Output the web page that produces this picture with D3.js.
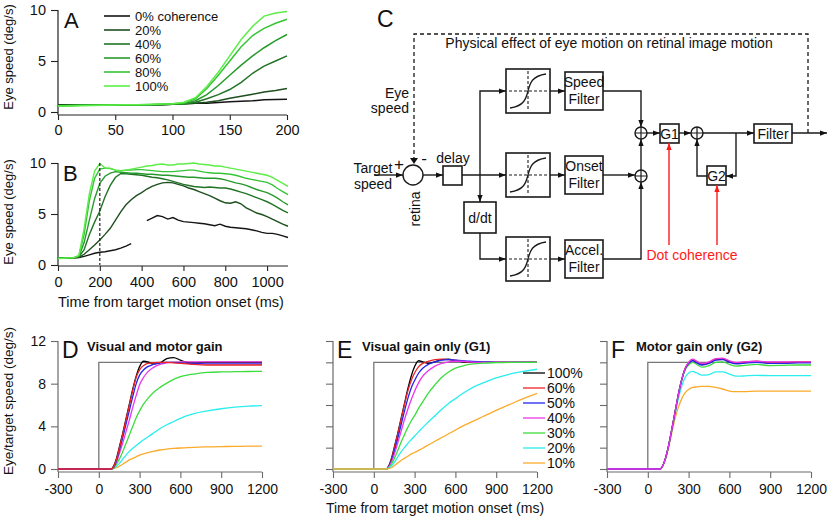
<!DOCTYPE html>
<html><head><meta charset="utf-8">
<script src="https://cdn.jsdelivr.net/npm/d3@7"></script>
<style>
html,body{margin:0;padding:0;background:#fff;}
svg{display:block;font-family:'Liberation Sans',Arial,Helvetica,sans-serif;}
</style></head><body>
<svg id="fig" width="829" height="522"></svg>
<script>
// ================= DATA =================
// Panels A & B: recorded eye speed (deg/s) for each motion coherence
const cohLabels = ["0% coherence","20%","40%","60%","80%","100%"];
const cohColors = ["#151515","#1d4f1f","#217426","#279a2d","#36c436","#5cee46"];

const tA = [0,10,20,30,40,50,60,70,80,90,100,110,120,130,140,150,160,170,180,190,200];
const speedA = [
  [0.70,0.72,0.68,0.70,0.72,0.70,0.68,0.66,0.70,0.72,0.75,0.80,0.85,0.85,0.92,1.00,1.05,1.10,1.20,1.22,1.25],
  [0.66,0.68,0.70,0.68,0.70,0.72,0.70,0.68,0.70,0.72,0.76,0.80,0.85,0.95,1.10,1.35,1.55,1.75,1.95,2.10,2.30],
  [0.64,0.66,0.68,0.70,0.68,0.70,0.70,0.68,0.72,0.74,0.76,0.78,0.95,1.30,1.70,2.20,2.90,3.80,4.50,5.00,5.50],
  [0.62,0.64,0.66,0.68,0.70,0.70,0.68,0.70,0.72,0.74,0.78,0.82,1.10,1.70,2.60,3.60,4.60,5.50,6.30,7.00,7.60],
  [0.60,0.62,0.65,0.66,0.68,0.70,0.70,0.72,0.74,0.76,0.80,0.88,1.30,2.30,3.60,5.00,6.40,7.50,8.20,8.70,9.10],
  [0.58,0.60,0.62,0.64,0.66,0.68,0.70,0.72,0.74,0.78,0.82,0.95,1.40,2.50,3.90,5.50,7.10,8.40,9.40,9.70,9.85]
];

const tB = [0,25,50,75,100,125,150,175,200,225,250,275,300,325,350,375,400,425,450,475,500,525,550,575,600,625,650,675,700,725,750,775,800,825,850,875,900,925,950,975,1000,1025,1050,1075,1100];
const speedB = [
  [0.70,0.72,0.68,0.70,0.72,0.85,1.00,1.15,1.25,1.30,1.40,1.50,1.65,1.85,2.10,null,null,4.35,4.60,4.85,4.75,4.50,4.65,4.40,4.25,4.20,4.15,4.10,4.05,3.95,3.85,4.00,3.80,3.70,3.65,3.60,3.55,3.45,3.35,3.20,3.10,3.10,3.00,2.85,2.70],
  [0.68,0.70,0.72,0.70,0.75,1.05,1.50,1.95,2.45,3.00,3.60,4.40,5.20,5.90,6.40,6.80,7.10,7.45,7.70,7.90,8.05,8.10,8.05,7.90,7.75,7.55,7.40,7.20,7.00,6.80,6.55,6.30,6.10,6.05,6.20,6.00,5.60,5.35,5.10,4.95,4.75,4.50,4.25,4.00,3.80],
  [0.70,0.68,0.72,0.70,0.80,1.50,3.00,4.20,5.30,6.70,7.80,8.60,8.95,8.95,8.90,8.85,8.80,8.70,8.60,8.55,8.45,8.35,8.20,8.05,7.90,7.80,7.70,7.65,7.60,7.65,7.60,7.55,7.55,7.45,7.30,7.15,7.00,6.80,6.60,6.40,6.20,5.95,5.65,5.35,5.10],
  [0.66,0.70,0.68,0.72,0.85,2.20,4.40,6.50,8.00,8.70,9.00,9.15,9.10,9.05,9.00,9.00,8.95,8.90,8.90,8.85,8.80,8.80,8.75,8.70,8.65,8.60,8.60,8.55,8.50,8.50,8.50,8.45,8.35,8.20,8.05,7.95,7.80,7.60,7.40,7.25,7.10,6.85,6.55,6.20,5.90],
  [0.65,0.68,0.70,0.72,0.90,3.00,6.30,8.50,9.40,9.50,9.45,9.30,9.25,9.30,9.30,9.35,9.35,9.30,9.25,9.20,9.15,9.15,9.15,9.20,9.25,9.30,9.30,9.20,9.10,9.05,9.00,9.00,8.95,8.90,8.80,8.65,8.50,8.40,8.30,8.20,8.10,7.85,7.50,7.20,6.90],
  [0.64,0.66,0.70,0.70,0.95,3.60,7.00,9.20,9.95,9.50,9.50,9.30,9.20,9.30,9.40,9.50,9.60,9.70,9.75,9.85,9.90,9.80,9.80,9.90,9.90,9.95,10.00,9.90,9.85,9.80,9.70,9.70,9.60,9.50,9.40,9.30,9.20,9.10,9.00,8.90,8.80,8.60,8.30,8.00,7.70]
];
const markerB = 200; // dashed reference time in B (ms)

// Panels D, E, F: model output (eye / target speed, deg/s)
const modelLabels = ["100%","60%","50%","40%","30%","20%","10%"];
const modelColors = ["#000000","#ee2424","#2424ee","#ea36ea","#3ddc3d","#2aeeee","#fbab2a"];
const tModel = [-300,0,90,110,130,150,175,200,225,250,275,300,330,360,400,450,500,550,600,650,700,800,900,1000,1100,1200];
const targetT = [-300,0,0,1200];
const targetV = [0,0,10,10];

const modelD = [
  [0,0,0,0.30,1.00,2.00,3.30,4.70,6.10,7.50,8.70,9.60,10.10,10.05,9.85,9.95,10.35,10.45,10.20,10.00,9.95,10.00,10.00,10.00,10.00,10.00],
  [0,0,0,0.25,0.90,1.90,3.20,4.60,6.00,7.40,8.60,9.30,9.70,9.90,9.95,10.00,10.00,9.95,9.90,9.85,9.80,9.75,9.75,9.75,9.75,9.75],
  [0,0,0,0.20,0.80,1.70,2.90,4.20,5.50,6.80,8.00,8.80,9.30,9.60,9.80,9.95,10.00,10.00,9.95,9.90,9.90,9.85,9.85,9.85,9.85,9.85],
  [0,0,0,0.18,0.65,1.40,2.40,3.50,4.60,5.80,6.90,7.90,8.60,9.10,9.50,9.80,9.95,10.00,10.05,10.05,10.05,10.05,10.05,10.05,10.05,10.05],
  [0,0,0,0.10,0.45,0.90,1.60,2.40,3.20,4.00,4.80,5.45,6.10,6.60,7.15,7.65,8.05,8.40,8.65,8.80,8.90,9.05,9.10,9.12,9.14,9.15],
  [0,0,0,0.05,0.25,0.50,0.90,1.30,1.65,1.95,2.20,2.45,2.75,3.00,3.35,3.80,4.15,4.45,4.75,5.00,5.20,5.45,5.65,5.80,5.90,5.95],
  [0,0,0,0.03,0.12,0.25,0.45,0.65,0.85,1.00,1.15,1.30,1.42,1.53,1.65,1.78,1.87,1.93,1.97,2.00,2.03,2.07,2.10,2.12,2.14,2.15]
];
const modelE = [
  [0,0,0,0.30,1.00,2.00,3.30,4.70,6.10,7.50,8.70,9.60,10.15,10.05,9.90,10.05,10.25,10.30,10.15,10.05,10.00,10.00,10.00,10.00,10.00,10.00],
  [0,0,0,0.25,0.90,1.90,3.20,4.60,6.00,7.30,8.30,9.00,9.60,9.90,10.10,10.25,10.30,10.25,10.20,10.10,10.05,10.00,10.00,10.00,10.00,10.00],
  [0,0,0,0.20,0.80,1.60,2.80,4.10,5.40,6.60,7.60,8.30,9.00,9.45,9.80,10.05,10.20,10.25,10.20,10.15,10.10,10.05,10.00,10.00,10.00,10.00],
  [0,0,0,0.18,0.65,1.35,2.40,3.50,4.60,5.60,6.50,7.30,8.10,8.70,9.20,9.65,9.90,10.05,10.10,10.10,10.05,10.00,10.00,10.00,10.00,10.00],
  [0,0,0,0.12,0.45,0.95,1.70,2.50,3.20,3.90,4.50,5.00,5.70,6.30,7.10,7.90,8.60,9.10,9.45,9.65,9.80,9.92,9.97,10.00,10.00,10.00],
  [0,0,0,0.08,0.30,0.60,1.10,1.60,2.00,2.40,2.75,3.10,3.50,3.90,4.40,5.00,5.60,6.15,6.60,7.05,7.45,8.05,8.55,8.90,9.15,9.35],
  [0,0,0,0.03,0.12,0.30,0.55,0.80,1.00,1.20,1.40,1.55,1.75,1.95,2.25,2.60,2.95,3.30,3.65,4.00,4.30,4.90,5.50,6.05,6.60,7.10]
];
const modelF = [
  [0,0,0,0.30,1.00,2.00,3.60,5.30,7.00,8.40,9.40,9.90,10.20,10.00,9.80,9.95,10.25,10.30,10.05,9.90,9.95,10.05,9.95,9.95,10.00,10.00],
  [0,0,0,0.30,1.00,2.00,3.60,5.30,7.00,8.40,9.45,9.95,10.25,10.05,9.85,10.00,10.30,10.35,10.10,9.95,10.00,10.10,10.00,10.00,10.05,10.05],
  [0,0,0,0.30,1.00,2.00,3.60,5.30,7.00,8.40,9.40,9.90,10.15,9.95,9.75,9.90,10.20,10.25,10.00,9.85,9.90,10.00,9.90,9.90,9.95,9.95],
  [0,0,0,0.30,1.00,2.00,3.60,5.30,7.00,8.40,9.45,10.00,10.30,10.10,9.90,10.05,10.35,10.40,10.15,10.00,10.05,10.10,10.05,10.05,10.05,10.05],
  [0,0,0,0.30,1.00,2.00,3.60,5.30,7.00,8.35,9.30,9.75,10.00,9.80,9.55,9.70,10.00,10.05,9.80,9.65,9.70,9.80,9.70,9.72,9.75,9.75],
  [0,0,0,0.30,1.00,2.00,3.50,5.10,6.60,7.80,8.60,9.00,9.15,9.00,8.80,8.85,9.10,9.10,8.90,8.70,8.72,8.78,8.75,8.75,8.75,8.75],
  [0,0,0,0.30,0.95,1.90,3.30,4.70,5.80,6.60,7.15,7.45,7.65,7.70,7.75,7.75,7.65,7.50,7.30,7.25,7.25,7.30,7.30,7.30,7.30,7.30]
];

// tick values
const ticksAx = [0,50,100,150,200];
const ticksAy = [0,5,10];
const ticksBx = [0,200,400,600,800,1000];
const ticksBy = [0,5,10];
const ticksModelX = [-300,0,300,600,900,1200];
const ticksDy = [0,4,8,12];
const ticksEFy = [0,2,4,6,8,10,12];

// ================= DRAWING =================
const svg = d3.select("#fig");
svg.append("rect").attr("width",829).attr("height",522).attr("fill","#fff");
const FONT = "'Liberation Sans',Arial,Helvetica,sans-serif";
const plainFmt = d => String(d);

function styleAxis(g, color, fs){
  g.select(".domain").remove();
  g.selectAll(".tick line").attr("stroke",color).attr("stroke-width",1.1);
  g.selectAll(".tick text").attr("fill","#111").attr("font-size",fs).attr("font-family",FONT);
}
function axes(x, y, o){
  const g = svg.append("g");
  const xa = d3.axisBottom(x).tickValues(o.xt).tickSize(o.tsx).tickPadding(o.px).tickSizeOuter(0).tickFormat(plainFmt);
  const gx = g.append("g").attr("transform",`translate(0,${o.axY})`).call(xa);
  styleAxis(gx, o.color, o.fs);
  const ya = d3.axisLeft(y).tickValues(o.yt).tickSize(o.tsy).tickPadding(o.py).tickSizeOuter(0)
    .tickFormat(o.noYLabels ? "" : plainFmt);
  const gy = g.append("g").attr("transform",`translate(${o.axX},0)`).call(ya);
  styleAxis(gy, o.color, o.fs);
  g.append("line").attr("x1",o.axX).attr("x2",o.axX).attr("y1",y(y.domain()[1])).attr("y2",o.axY)
    .attr("stroke",o.color).attr("stroke-width",1.2);
  g.append("line").attr("x1",o.axX).attr("x2",x.range()[1]).attr("y1",o.axY).attr("y2",o.axY)
    .attr("stroke",o.color).attr("stroke-width",1.2);
}
function text(x,y,s,o={}){
  const t = svg.append("text").attr("x",x).attr("y",y).text(s)
    .attr("font-size",o.fs||14).attr("font-family",FONT).attr("fill",o.fill||"#111")
    .attr("text-anchor",o.anchor||"start");
  if(o.bold) t.attr("font-weight","bold");
  if(o.rot) t.attr("transform",`rotate(${o.rot},${x},${y})`);
  return t;
}

// ---------- Panel A ----------
{
  const x = d3.scaleLinear([0,200],[58,287]);
  const y = d3.scaleLinear([0,10],[112,10]);
  axes(x,y,{xt:ticksAx,yt:ticksAy,axY:115,axX:58,tsx:5,tsy:7,px:5,py:5,color:"#222",fs:14.5});
  const line = d3.line().x((d,i)=>x(tA[i])).y(d=>y(d));
  speedA.forEach((s,k)=>{
    svg.append("path").attr("d",line(s)).attr("fill","none").attr("stroke",cohColors[k]).attr("stroke-width",1.5);
  });
  cohLabels.forEach((lab,k)=>{
    const yy = 16 + k*14;
    svg.append("line").attr("x1",104).attr("x2",130).attr("y1",yy).attr("y2",yy)
      .attr("stroke",cohColors[k]).attr("stroke-width",1.6);
    text(135,yy+4.5,lab,{fs:13});
  });
  text(64,28,"A",{fs:22});
  text(13,57,"Eye speed (deg/s)",{fs:13,anchor:"middle",rot:-90});
}

// ---------- Panel B ----------
{
  const x = d3.scaleLinear([0,1100],[58,288]);
  const y = d3.scaleLinear([0,10],[265,163]);
  axes(x,y,{xt:ticksBx,yt:ticksBy,axY:266,axX:58,tsx:5,tsy:7,px:6,py:5,color:"#222",fs:14.5});
  const line = d3.line().defined(d=>d!==null).x((d,i)=>x(tB[i])).y(d=>y(d));
  speedB.forEach((s,k)=>{
    svg.append("path").attr("d",line(s)).attr("fill","none").attr("stroke",cohColors[k]).attr("stroke-width",1.4);
  });
  svg.append("line").attr("x1",x(markerB)).attr("x2",x(markerB)).attr("y1",y(10)).attr("y2",y(0))
    .attr("stroke","#222").attr("stroke-width",1.2).attr("stroke-dasharray","3,2");
  text(63,181,"B",{fs:22});
  text(13,212,"Eye speed (deg/s)",{fs:13,anchor:"middle",rot:-90});
  text(171,307,"Time from target motion onset (ms)",{fs:14.5,anchor:"middle"});
}

// ---------- Panels D, E, F ----------
const modelPanels = [
  {data:modelD, x0:58, letter:"D", title:"Visual and motor gain", yLabels:true, order:[0,6,5,4,3,2,1]},
  {data:modelE, x0:333, letter:"E", title:"Visual gain only (G1)", yLabels:false, order:[0,1,2,3,4,5,6]},
  {data:modelF, x0:607, letter:"F", title:"Motor gain only (G2)", yLabels:false, order:[0,6,5,4,1,2,3]}
];
modelPanels.forEach(p=>{
  const x = d3.scaleLinear([-300,1200],[p.x0,p.x0+204]);
  const y = d3.scaleLinear([0,12],[469,341]);
  axes(x,y,{xt:ticksModelX,yt:p.yLabels?ticksDy:ticksEFy,axY:472,axX:p.x0,tsx:6,tsy:7,px:6,py:5,
            color:"#6a6a6a",fs:14,noYLabels:!p.yLabels});
  const tl = d3.line().x((d,i)=>x(targetT[i])).y(d=>y(d));
  svg.append("path").attr("d",tl(targetV)).attr("fill","none").attr("stroke","#777").attr("stroke-width",1.3);
  const line = d3.line().x((d,i)=>x(tModel[i])).y(d=>y(d)).curve(d3.curveMonotoneX);
  p.order.forEach(k=>{
    svg.append("path").attr("d",line(p.data[k])).attr("fill","none").attr("stroke",modelColors[k]).attr("stroke-width",1.3);
  });
  text(p.x0+4,358,p.letter,{fs:23});
  text(p.x0+29,351,p.title,{fs:13,bold:true});
});
text(13,401,"Eye/target speed (deg/s)",{fs:13.5,anchor:"middle",rot:-90});
text(435,513,"Time from target motion onset (ms)",{fs:14,anchor:"middle"});
modelLabels.forEach((lab,k)=>{
  const yy = 373 + k*15;
  svg.append("line").attr("x1",523).attr("x2",545).attr("y1",yy).attr("y2",yy)
    .attr("stroke",modelColors[k]).attr("stroke-width",1.3);
  text(547,yy+5,lab,{fs:14});
});

// ---------- Panel C: model diagram ----------
{
  const defs = svg.append("defs");
  [["arrK","#111"],["arrR","#ff1a1a"]].forEach(([id,c])=>{
    defs.append("marker").attr("id",id).attr("viewBox","0 0 8 6").attr("refX",8).attr("refY",3)
      .attr("markerWidth",7).attr("markerHeight",6).attr("markerUnits","userSpaceOnUse").attr("orient","auto")
      .append("path").attr("d","M0,0L8,3L0,6Z").attr("fill",c);
  });
  const G = svg.append("g").attr("fill","none").attr("stroke","#1a1a1a").attr("stroke-width",1.4);
  const arrow = (d, red)=> G.append("path").attr("d",d).attr("stroke",red?"#ff1a1a":"#1a1a1a")
      .attr("marker-end",red?"url(#arrR)":"url(#arrK)");
  const box = (x,y,w,h)=> G.append("rect").attr("x",x).attr("y",y).attr("width",w).attr("height",h).attr("stroke-width",1.6);
  const sum = (cx,cy,r)=>{
    G.append("circle").attr("cx",cx).attr("cy",cy).attr("r",r).attr("fill","#fff");
    G.append("path").attr("d",`M${cx-r},${cy}H${cx+r}M${cx},${cy-r}V${cy+r}`).attr("stroke-width",1.2);
  };
  G.append("path").attr("d","M808,133V34H414V160").attr("stroke-dasharray","4,3").attr("stroke-width",1.3);
  G.append("path").attr("d","M410,158L414,164L418,158Z").attr("fill","#111").attr("stroke","none");
  text(609,48,"Physical effect of eye motion on retinal image motion",{fs:14,anchor:"middle"});
  text(409,98,"Eye",{fs:14,anchor:"end"});
  text(409,113,"speed",{fs:14,anchor:"end"});
  G.append("circle").attr("cx",413).attr("cy",175).attr("r",10);
  arrow("M374,175H403");
  text(373,173,"Target",{fs:14,anchor:"middle"});
  text(373,189,"speed",{fs:14,anchor:"middle"});
  text(399,170,"+",{fs:17,anchor:"middle"});
  text(424,164,"-",{fs:17,anchor:"middle"});
  text(420,209,"retina",{fs:14,anchor:"middle",rot:-90});
  arrow("M423,175H443");
  box(443,166,19,19);
  text(453,163,"delay",{fs:14,anchor:"middle"});
  arrow("M462,175H506");
  arrow("M480,175V91H506");
  arrow("M480,175V202");
  box(464,202,32,31);
  text(480,223,"d/dt",{fs:14,anchor:"middle"});
  arrow("M480,233V259H506");
  const rows = [[91,"Speed"],[175,"Onset"],[259,"Accel."]];
  rows.forEach(([cy,name])=>{
    box(506,cy-22,44,44);
    G.append("path").attr("d",`M528,${cy-20}V${cy+20}M509,${cy}H547`).attr("stroke-dasharray","3,2").attr("stroke-width",1.1);
    G.append("path").attr("d",`M510,${cy+17}C524,${cy+15} 526,${cy+8} 528,${cy}C530,${cy-8} 532,${cy-15} 546,${cy-17}`).attr("stroke-width",1.3);
    arrow(`M550,${cy}H565`);
    box(565,cy-19,38,38);
    text(584,cy-4,name,{fs:14,anchor:"middle"});
    text(584,cy+13,"Filter",{fs:14,anchor:"middle"});
  });
  arrow("M603,91H641V127");
  arrow("M603,175H635");
  arrow("M603,259H641V182");
  arrow("M641,170V139");
  sum(641,133,6);
  sum(641,176,6);
  arrow("M647,133H660");
  box(660,124,19,19);
  text(669.5,139,"G1",{fs:14,anchor:"middle"});
  arrow("M679,133H691");
  sum(697,133,6);
  arrow("M703,133H754");
  box(754,124,38,19);
  text(773,139,"Filter",{fs:14,anchor:"middle"});
  arrow("M792,133H827");
  arrow("M736,133V176H726");
  box(707,166,19,19);
  text(716.5,181,"G2",{fs:14,anchor:"middle"});
  arrow("M707,176H697V139");
  arrow("M669,245V143",true);
  arrow("M717,245V185",true);
  text(692,260,"Dot coherence",{fs:14,anchor:"middle",fill:"#ff1a1a"});
  text(377,27,"C",{fs:23});
}
</script>
</body></html>
